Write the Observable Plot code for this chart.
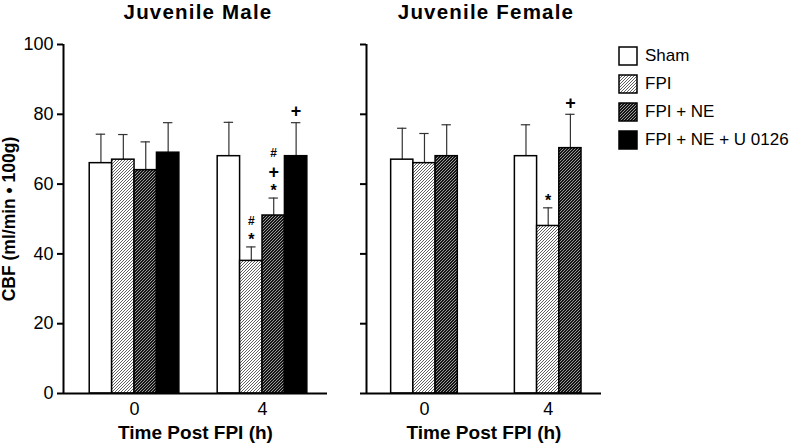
<!DOCTYPE html>
<html><head><meta charset="utf-8">
<script src="https://cdn.jsdelivr.net/npm/d3@7"></script>
<script src="https://cdn.jsdelivr.net/npm/@observablehq/plot@0.6"></script>
<style>
body{margin:0;background:#fff;font-family:"Liberation Sans",Arial,sans-serif;}
#root{position:relative;width:792px;height:446px;overflow:hidden;background:#fff;}
.panel{position:absolute;top:0;}
.title{position:absolute;top:0;font-weight:bold;font-size:20.5px;line-height:normal;letter-spacing:1.2px;text-align:center;color:#000;white-space:nowrap;}
#legend{position:absolute;left:618px;top:42px;font-size:17px;color:#000;white-space:nowrap;}
.li{display:flex;align-items:center;height:28px;}
.li svg{margin-right:7px;flex:none;}
</style></head>
<body><div id="root">
<svg width="0" height="0" style="position:absolute"><defs>
<pattern id="hatchLight" patternUnits="userSpaceOnUse" width="3" height="3">
<rect width="3" height="3" fill="#fff"/>
<path d="M-1,1 l2,-2 M0,3 l3,-3 M2,4 l2,-2" stroke="#3a3a3a" stroke-width="0.8"/>
</pattern>
<pattern id="hatchDark" patternUnits="userSpaceOnUse" width="3" height="3">
<rect width="3" height="3" fill="#151515"/>
<path d="M-1,1 l2,-2 M0,3 l3,-3 M2,4 l2,-2" stroke="#bdbdbd" stroke-width="0.8"/>
</pattern>
</defs></svg>
</div>
<script>
// ---- data ----
const times = ["0", "4"];
const seriesNames = ["Sham", "FPI", "FPI + NE", "FPI + NE + U 0126"];
const maleMeanT0 = [66, 67, 64, 69];
const maleMeanT4 = [68, 38, 51, 68];
const maleSemT0 = [8.3, 7.2, 8.1, 8.6];
const maleSemT4 = [9.7, 4.0, 5.0, 9.6];
const maleMarksT0 = ["", "", "", ""];
const maleMarksT4 = ["", "*#", "*+#", "+"];
const femaleMeanT0 = [67, 66, 68];
const femaleMeanT4 = [68, 48, 70.3];
const femaleSemT0 = [9.0, 8.5, 9.0];
const femaleSemT4 = [9.0, 5.2, 9.7];
const femaleMarksT0 = ["", "", ""];
const femaleMarksT4 = ["", "*", "+"];
const yTicks = [0, 20, 40, 60, 80, 100];

// ---- styles ----
const fills = ["#fff", "url(#hatchLight)", "url(#hatchDark)", "#000"];
const symStyle = {"*": {size: 16, weight: "bold", dy: 4}, "+": {size: 18, weight: "bold", dy: 0}, "#": {size: 12, weight: "bold", dy: 0}};
const levelOffset = [11, 26, 45];

function buildRows(meansByTime, semsByTime, marksByTime, stride) {
  const rows = [];
  times.forEach((t, ti) => {
    meansByTime[ti].forEach((m, si) => {
      const x1 = ti * stride + si;
      rows.push({time: t, ti, si, series: seriesNames[si], mean: m, sem: semsByTime[ti][si],
        top: m + semsByTime[ti][si], x1, x2: x1 + 1, xc: x1 + 0.5, marks: marksByTime[ti][si]});
    });
  });
  return rows;
}

function panel(rows, nSeries, stride, opts) {
  const marks = [];
  marks.push(Plot.ruleX(rows, {x: "xc", y1: "mean", y2: "top", stroke: "#333", strokeWidth: 1.2}));
  marks.push(Plot.ruleY(rows, {y: "top", x1: d => d.xc - 0.21, x2: d => d.xc + 0.21, stroke: "#333", strokeWidth: 1.2}));
  for (let si = 0; si < nSeries; si++) {
    marks.push(Plot.rectY(rows.filter(d => d.si === si), {x1: "x1", x2: "x2", y1: 0, y2: "mean", fill: fills[si], stroke: "#000", strokeWidth: 1.5}));
  }
  const ann = [];
  rows.forEach(d => [...d.marks].forEach((s, level) => ann.push({...d, sym: s, level})));
  const combos = d3.groups(ann, d => d.sym, d => d.level);
  combos.forEach(([sym, byLevel]) => byLevel.forEach(([level, items]) => {
    const st = symStyle[sym];
    marks.push(Plot.text(items, {x: "xc", y: "top", text: "sym", lineAnchor: "middle", fontSize: st.size, fontWeight: st.weight, fill: "#000", dy: -levelOffset[level] + st.dy}));
  }));
  marks.push(Plot.ruleX([opts.domain[0]], {y1: 0, y2: 100, stroke: "#000", strokeWidth: 2}));
  marks.push(Plot.ruleY([0], {stroke: "#000", strokeWidth: 2}));
  marks.push(Plot.axisY({ticks: yTicks, tickSize: 6, tickPadding: 4, tickFormat: opts.yLabels ? d => d : () => "", fontSize: 18, strokeWidth: 2, label: null}));
  marks.push(Plot.axisX({ticks: times.map((t, ti) => ti * stride + (nSeries - 1) / 2 + 0.5), tickFormat: (d, i) => times[i], tickSize: 0, tickPadding: 9, fontSize: 18, label: null}));
  marks.push(Plot.text(["Time Post FPI (h)"], {frameAnchor: "bottom", textAnchor: "middle", dy: 45, lineAnchor: "bottom", fontSize: 19, fontWeight: "bold", fill: "#000"}));
  if (opts.yTitle) marks.push(Plot.text([opts.yTitle], {frameAnchor: "left", textAnchor: "middle", rotate: -90, dx: -54, lineAnchor: "middle", fontSize: 17.5, fontWeight: "bold", fill: "#000"}));
  return Plot.plot({
    width: opts.width, height: 446,
    marginLeft: opts.ml, marginRight: opts.mr, marginTop: 44, marginBottom: 53,
    style: {fontFamily: "'Liberation Sans', Arial, sans-serif", color: "#000", background: "transparent", overflow: "visible"},
    x: {type: "linear", domain: opts.domain, axis: null},
    y: {domain: [0, 100], axis: null},
    marks
  });
}

const root = document.getElementById("root");
const maleStride = 5.71, femaleStride = 5.57;
const maleRows = buildRows([maleMeanT0, maleMeanT4], [maleSemT0, maleSemT4], [maleMarksT0, maleMarksT4], maleStride);
const femaleRows = buildRows([femaleMeanT0, femaleMeanT4], [femaleSemT0, femaleSemT4], [femaleMarksT0, femaleMarksT4], femaleStride);

const p1 = panel(maleRows, 4, maleStride, {width: 340, ml: 63, mr: 13, domain: [-1.17, 10.61], yLabels: true, yTitle: "CBF (ml/min • 100g)"});
p1.classList.add("panel"); p1.style.left = "0px"; root.appendChild(p1);
const p2 = panel(femaleRows, 3, femaleStride, {width: 452, ml: 26, mr: 191, domain: [-1.11, 9.47], yLabels: false});
p2.classList.add("panel"); p2.style.left = "340px"; root.appendChild(p2);

function addTitle(text, cx) {
  const d = document.createElement("div");
  d.className = "title"; d.textContent = text;
  d.style.left = (cx - 150) + "px"; d.style.width = "300px";
  root.appendChild(d);
}
addTitle("Juvenile Male", 198);
addTitle("Juvenile Female", 486);

const leg = document.createElement("div"); leg.id = "legend";
seriesNames.forEach((s, i) => {
  const row = document.createElement("div"); row.className = "li";
  row.innerHTML = `<svg width="20" height="20"><rect x="1" y="1" width="18" height="18" fill="${fills[i]}" stroke="#000" stroke-width="1.5"/></svg><span>${s}</span>`;
  leg.appendChild(row);
});
root.appendChild(leg);
</script>
</body></html>
